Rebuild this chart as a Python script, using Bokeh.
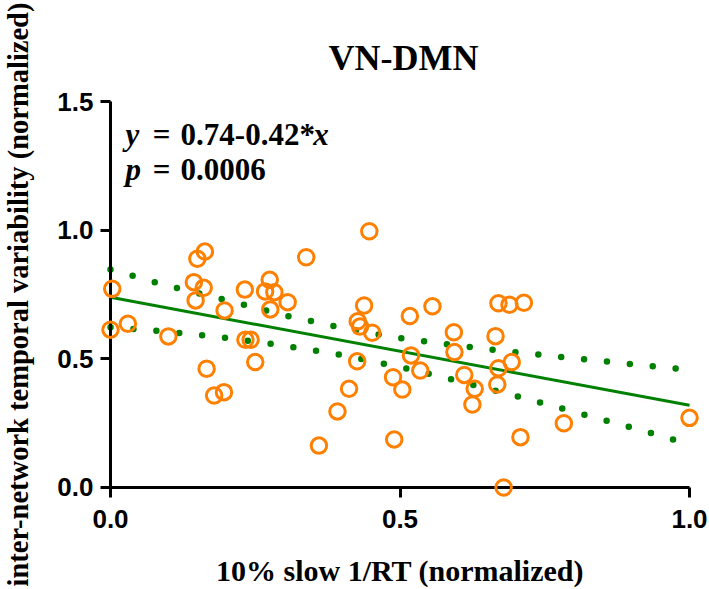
from bokeh.plotting import figure
from bokeh.models import Range1d, Label, FixedTicker
from bokeh.embed import file_html
from bokeh.resources import INLINE

# ---------------- data ----------------
rt_x = [0.003, 0.000, 0.030, 0.100, 0.144, 0.161, 0.147, 0.150, 0.163, 0.197,
        0.166, 0.179, 0.196, 0.232, 0.233, 0.242, 0.250, 0.267, 0.283, 0.276,
        0.306, 0.275, 0.338, 0.360, 0.392, 0.412, 0.426, 0.427, 0.431, 0.438,
        0.447, 0.452, 0.488, 0.490, 0.504, 0.517, 0.519, 0.556, 0.535, 0.593,
        0.594, 0.611, 0.629, 0.625, 0.670, 0.689, 0.714, 0.665, 0.670, 0.693,
        0.668, 0.708, 0.679, 0.783, 1.000]
var_y = [0.773, 0.614, 0.637, 0.588, 0.799, 0.777, 0.728, 0.890, 0.918, 0.689,
         0.462, 0.358, 0.371, 0.770, 0.575, 0.575, 0.488, 0.763, 0.760, 0.693,
         0.721, 0.808, 0.896, 0.163, 0.296, 0.384, 0.491, 0.647, 0.626, 0.708,
         0.997, 0.602, 0.429, 0.187, 0.381, 0.667, 0.514, 0.705, 0.455, 0.604,
         0.527, 0.438, 0.384, 0.323, 0.717, 0.711, 0.719, 0.589, 0.464, 0.488,
         0.401, 0.196, 0.000, 0.250, 0.271]

fit_x = [0.0, 1.0]
fit_y = [0.74, 0.32]

band_x = [0.0, 0.1, 0.2, 0.3, 0.4, 0.5, 0.6, 0.7, 0.8, 0.9, 1.0]
band_upper = [0.848, 0.784, 0.729, 0.670, 0.621, 0.581, 0.552, 0.526, 0.503, 0.480, 0.458]
band_lower = [0.624, 0.606, 0.582, 0.552, 0.515, 0.469, 0.415, 0.356, 0.295, 0.233, 0.169]

x_ticks = [0.0, 0.5, 1.0]
x_tick_labels = ["0.0", "0.5", "1.0"]
y_ticks = [0.0, 0.5, 1.0, 1.5]
y_tick_labels = ["0.0", "0.5", "1.0", "1.5"]

title_text = "VN-DMN"
x_title = "10% slow 1/RT (normalized)"
y_title = "inter-network temporal variability (normalized)"

# ---------------- styling ----------------
ORANGE = "#FF8000"
GREEN = "#008000"
SERIF = "Liberation Serif"
SANS = "Liberation Sans"

# the frame fills the whole canvas; axes are pinned at x=0 / y=0 so that
# the markers lying on the axes are not cut by the frame edge
p = figure(width=709, height=589, output_backend="svg", toolbar_location=None,
           x_range=Range1d(-0.18998, 1.03454), y_range=Range1d(-0.39689, 1.89494),
           min_border_left=0, min_border_right=0, min_border_top=0,
           min_border_bottom=0, title=None)
p.outline_line_color = None
p.xgrid.grid_line_color = None
p.ygrid.grid_line_color = None
p.background_fill_color = "white"
p.border_fill_color = "white"

# confidence band (dotted) and regression line
p.line(band_x, band_upper, line_color=GREEN, line_width=6.5, line_dash="0 23", line_cap="round")
p.line(band_x, band_lower, line_color=GREEN, line_width=6.5, line_dash="0 23", line_cap="round")
p.line(fit_x, fit_y, line_color=GREEN, line_width=3)

# data points
p.scatter(rt_x, var_y, marker="circle", size=15.5, fill_color=None,
          line_color=ORANGE, line_width=3, level="overlay")

# axes
for ax in (p.xaxis[0], p.yaxis[0]):
    ax.fixed_location = 0
    ax.axis_line_width = 3
    ax.axis_line_color = "black"
    ax.major_tick_line_width = 3
    ax.major_tick_line_color = "black"
    ax.major_tick_out = 10
    ax.major_tick_in = 0
    ax.minor_tick_line_color = None
    ax.major_label_text_font = SANS
    ax.major_label_text_font_size = "26px"
    ax.major_label_text_font_style = "bold"
    ax.major_label_text_color = "black"
    ax.axis_label_text_font = SERIF
    ax.axis_label_text_font_style = "bold"
    ax.axis_label_text_color = "black"

p.xaxis.bounds = (0, 1)
p.yaxis.bounds = (0, 1.5)
p.xaxis.ticker = FixedTicker(ticks=x_ticks, minor_ticks=[])
p.yaxis.ticker = FixedTicker(ticks=y_ticks, minor_ticks=[])
p.xaxis.major_label_overrides = {t: l for t, l in zip(x_ticks, x_tick_labels)}
p.yaxis.major_label_overrides = {t: l for t, l in zip(y_ticks, y_tick_labels)}
p.xaxis.major_label_standoff = 13
p.yaxis.major_label_standoff = 7
p.xaxis.axis_label = x_title
p.yaxis.axis_label = y_title
p.xaxis.axis_label_text_font_size = "30px"
p.yaxis.axis_label_text_font_size = "28.5px"
p.xaxis.axis_label_standoff = 22
p.yaxis.axis_label_standoff = 20

# title
p.add_layout(Label(x=0.506, y=1.673, text=title_text, text_align="center",
                   text_baseline="alphabetic", text_font=SERIF, text_font_size="36px",
                   text_font_style="bold", text_color="black"))

# equation text
def lab(x, y, t, style):
    p.add_layout(Label(x=x, y=y, text=t, text_align="left", text_baseline="alphabetic",
                       text_font=SERIF, text_font_size="31px", text_font_style=style,
                       text_color="black"))

lab(0.026, 1.374, "y", "bold italic")
lab(0.073, 1.374, "=", "bold")
lab(0.121, 1.374, "0.74-0.42*", "bold")
lab(0.350, 1.374, "x", "bold italic")
lab(0.026, 1.238, "p", "bold italic")
lab(0.073, 1.238, "=", "bold")
lab(0.121, 1.238, "0.0006", "bold")

open("out.html", "w").write(file_html(p, INLINE))
